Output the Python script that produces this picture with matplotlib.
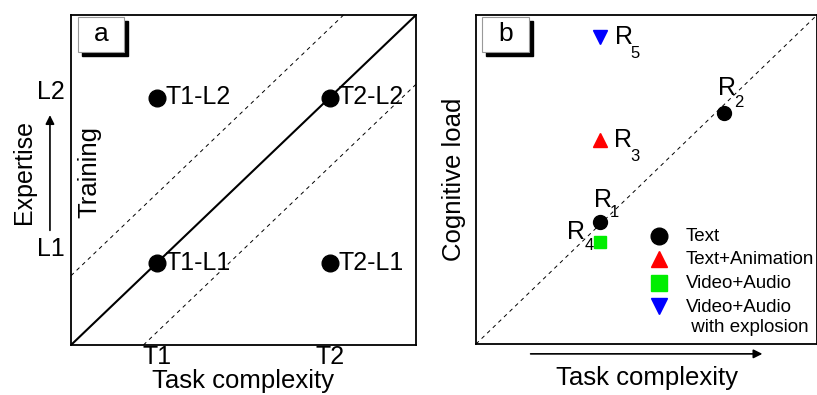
import matplotlib
matplotlib.use('Agg')
import matplotlib.pyplot as plt
from matplotlib.patches import Rectangle

plt.rcParams['font.family'] = ['Liberation Sans', 'DejaVu Sans']

# panel a: task complexity / expertise grid
task_levels = [0.25, 0.75]
task_names = ['T1', 'T2']
level_names = ['L1', 'L2']
grid_x = [0.25, 0.25, 0.75, 0.75]
grid_y = [0.25, 0.75, 0.75, 0.25]
grid_labels = ['T1-L1', 'T1-L2', 'T2-L2', 'T2-L1']
band = 0.21

# panel b: reported cases
case_x = [0.364, 0.727, 0.364, 0.364, 0.364]
case_y = [0.371, 0.702, 0.62, 0.31, 0.933]
case_subs = ['1', '2', '3', '4', '5']
case_type = [0, 0, 1, 2, 3]
# offsets (points) of the "R" and of its subscript from each marker
r_offsets = [(-4.3, 16), (-4.3, 18), (10, 0), (-24, 7), (11, 0)]
sub_offsets = [(10.5, 6.5), (10.5, 7.5), (25, -12), (-8, -2.5), (25, -11.5)]

type_names = ['Text', 'Text+Animation', 'Video+Audio', 'Video+Audio\n with explosion']
type_markers = ['o', '^', 's', 'v']
type_colors = ['black', 'red', '#00ee00', 'blue']
type_sizes = [10, 10, 9, 10]


def tag(ax, s, x0, x1, y0, y1):
    ax.add_patch(Rectangle((x0 + 0.012, y0 - 0.012), x1 - x0, y1 - y0,
                           transform=ax.transAxes, facecolor='black',
                           edgecolor='black', zorder=5, clip_on=False))
    ax.add_patch(Rectangle((x0, y0), x1 - x0, y1 - y0, transform=ax.transAxes,
                           facecolor='white', edgecolor='#999999', lw=0.8,
                           zorder=6, clip_on=False))
    ax.text((x0 + x1) / 2, (y0 + y1) / 2, s, transform=ax.transAxes,
            ha='center', va='center', fontsize=19, zorder=7)


fig = plt.figure(figsize=(8.17, 3.95), dpi=100)
ax1 = fig.add_axes([71 / 817, 50 / 395, 345 / 817, 330 / 395])
ax2 = fig.add_axes([476 / 817, 51 / 395, 341 / 817, 329 / 395])

for ax in (ax1, ax2):
    ax.set_xlim(0, 1)
    ax.set_ylim(0, 1)
    for sp in ax.spines.values():
        sp.set_linewidth(1.3)
    ax.tick_params(length=0)

# panel a
ax1.plot([0, 1], [0, 1], color='black', lw=1.5)
ax1.plot([0, 1 - band], [band, 1], 'k--', lw=0.7, dashes=(4, 4))
ax1.plot([band, 1], [0, 1 - band], 'k--', lw=0.7, dashes=(4, 4))
ax1.plot(grid_x, grid_y, 'o', color='black', ms=12, ls='none', zorder=4)
for x, y, s in zip(grid_x, grid_y, grid_labels):
    ax1.annotate(s, (x, y), xytext=(6, 0), textcoords='offset points',
                 va='center', ha='left', fontsize=18)
ax1.set_xticks(task_levels)
ax1.set_xticklabels(task_names, fontsize=18)
ax1.tick_params(axis='x', pad=0)
ax1.set_yticks([])
ax1.set_xlabel('Task complexity', fontsize=18.5, labelpad=0)
ax1.text(-0.058, 0.29, level_names[0], transform=ax1.transAxes,
         ha='center', va='center', fontsize=18)
ax1.text(-0.058, 0.767, level_names[1], transform=ax1.transAxes,
         ha='center', va='center', fontsize=18)
ax1.annotate('', xy=(-0.061, 0.705), xytext=(-0.061, 0.339),
             xycoords='axes fraction',
             arrowprops=dict(arrowstyle='-|>', color='black', lw=1.2,
                             mutation_scale=13))
ax1.text(-0.136, 0.524, 'Expertise', transform=ax1.transAxes, rotation=90,
         ha='center', va='center', fontsize=18)
ax1.text(0.052, 0.524, 'Training', transform=ax1.transAxes, rotation=90,
         ha='center', va='center', fontsize=18.5)
tag(ax1, 'a', 0.02, 0.154, 0.888, 0.994)

# panel b
ax2.plot([0, 1], [0, 1], 'k--', lw=0.7, dashes=(4, 4))
for x, y, sub, t, ro, so in zip(case_x, case_y, case_subs, case_type,
                                r_offsets, sub_offsets):
    ax2.plot(x, y, marker=type_markers[t], color=type_colors[t],
             ms=type_sizes[t], ls='none', zorder=4)
    ax2.annotate('R', (x, y), xytext=ro, textcoords='offset points',
                 ha='left', va='center', fontsize=18)
    ax2.annotate(sub, (x, y), xytext=so, textcoords='offset points',
                 ha='center', va='center', fontsize=12)
ax2.set_xticks([])
ax2.set_yticks([])
ax2.set_xlabel('Task complexity', fontsize=18.5, labelpad=16)
ax2.set_ylabel('Cognitive load', fontsize=18.5, labelpad=7)
ax2.annotate('', xy=(0.848, -0.03), xytext=(0.152, -0.03),
             xycoords='axes fraction',
             arrowprops=dict(arrowstyle='-|>', color='black', lw=1.2,
                             mutation_scale=13))

# legend
leg_y = [0.328, 0.258, 0.185, 0.116]
for t, ly in enumerate(leg_y):
    ax2.plot(0.537, ly, marker=type_markers[t], color=type_colors[t],
             ms=type_sizes[t] + 2, ls='none', transform=ax2.transAxes,
             clip_on=False)
    two_lines = '\n' in type_names[t]
    ax2.text(0.616, ly + (0.02 if two_lines else 0), type_names[t],
             transform=ax2.transAxes, ha='left',
             va='top' if two_lines else 'center', fontsize=13.5,
             linespacing=1.2)
tag(ax2, 'b', 0.018, 0.155, 0.888, 0.994)

fig.savefig('out.png', dpi=100)
